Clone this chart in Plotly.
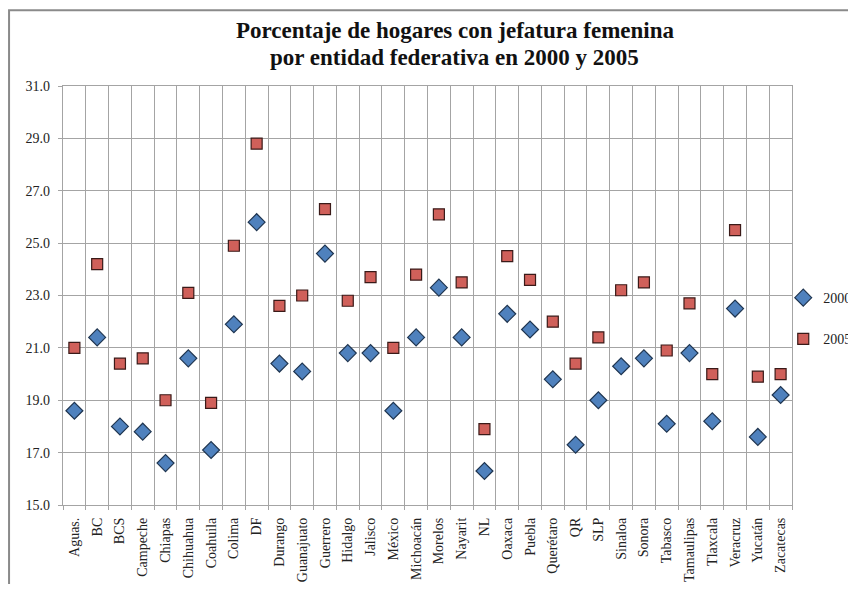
import plotly.graph_objects as go

entidades = ["Aguas.", "BC", "BCS", "Campeche", "Chiapas", "Chihuahua", "Coahuila",
             "Colima", "DF", "Durango", "Guanajuato", "Guerrero", "Hidalgo", "Jalisco",
             "México", "Michoacán", "Morelos", "Nayarit", "NL", "Oaxaca", "Puebla",
             "Querétaro", "QR", "SLP", "Sinaloa", "Sonora", "Tabasco", "Tamaulipas",
             "Tlaxcala", "Veracruz", "Yucatán", "Zacatecas"]

valores_2000 = [18.6, 21.4, 18.0, 17.8, 16.6, 20.6, 17.1, 21.9, 25.8, 20.4, 20.1, 24.6,
                20.8, 20.8, 18.6, 21.4, 23.3, 21.4, 16.3, 22.3, 21.7, 19.8, 17.3, 19.0,
                20.3, 20.6, 18.1, 20.8, 18.2, 22.5, 17.6, 19.2]

valores_2005 = [21.0, 24.2, 20.4, 20.6, 19.0, 23.1, 18.9, 24.9, 28.8, 22.6, 23.0, 26.3,
                22.8, 23.7, 21.0, 23.8, 26.1, 23.5, 17.9, 24.5, 23.6, 22.0, 20.4, 21.4,
                23.2, 23.5, 20.9, 22.7, 20.0, 25.5, 19.9, 20.0]

y_ticks = [15.0, 17.0, 19.0, 21.0, 23.0, 25.0, 27.0, 29.0, 31.0]

titulo_1 = "Porcentaje de hogares con jefatura femenina"
titulo_2 = "por entidad federativa en 2000 y 2005"

FONT = "Liberation Serif"
GRID = "#a4a4a4"

fig = go.Figure()
fig.add_trace(go.Scatter(
    x=entidades, y=valores_2000, mode="markers", name="2000", legendgroup="a",
    marker=dict(symbol="diamond", size=13, color="#4f81bd",
                line=dict(color="#1f3550", width=1.2)),
))
fig.add_trace(go.Scatter(
    x=entidades, y=valores_2005, mode="markers", name="2005", legendgroup="b",
    marker=dict(symbol="square", size=11, color="#d0605a",
                line=dict(color="#3a1a18", width=1.2)),
))

# The page body has an 8px default margin; figure is sized/shifted so it fits
# in the 856x592 window without scrollbars.
fig.update_layout(
    width=848, height=576,
    margin=dict(l=55, r=64, t=78, b=79, autoexpand=False),
    paper_bgcolor="white", plot_bgcolor="white",
    font=dict(family=FONT, size=14, color="#222"),
    showlegend=True,
    legend=dict(
        x=0.988, xanchor="left", y=0.445, yanchor="middle",
        font=dict(family=FONT, size=14, color="#222"),
        tracegroupgap=20, itemwidth=30,
        bgcolor="rgba(0,0,0,0)",
    ),
    xaxis=dict(
        type="category", tickson="boundaries", automargin=False,
        showgrid=True, gridcolor=GRID, gridwidth=1.2,
        showline=True, linecolor=GRID, linewidth=1.2, mirror=True,
        ticks="outside", ticklen=4, tickcolor=GRID, ticklabelstandoff=6,
        tickangle=-90, tickfont=dict(family=FONT, size=14, color="#222"),
        range=[-0.5, len(entidades) - 0.5],
    ),
    yaxis=dict(
        range=[15, 31], tickvals=y_ticks, automargin=False,
        ticktext=[f"{v:.1f}" for v in y_ticks],
        showgrid=True, gridcolor=GRID, gridwidth=1.2,
        showline=True, linecolor=GRID, linewidth=1.2, mirror=True,
        ticks="outside", ticklen=4, tickcolor=GRID, ticklabelstandoff=5,
        tickfont=dict(family=FONT, size=14, color="#222"),
        zeroline=False,
    ),
    annotations=[
        dict(text=f"<b>{titulo_1}</b>", xref="paper", yref="paper",
             x=0.5377, y=1.1325, xanchor="center", yanchor="middle",
             showarrow=False, font=dict(family=FONT, size=23, color="#111")),
        dict(text=f"<b>{titulo_2}</b>", xref="paper", yref="paper",
             x=0.5377, y=1.0692, xanchor="center", yanchor="middle",
             showarrow=False, font=dict(family=FONT, size=23, color="#111")),
    ],
    shapes=[dict(
        type="rect", xref="paper", yref="paper",
        x0=-0.0740, x1=1.3, y0=-0.4, y1=1.181,
        line=dict(color="#8a8a8a", width=2), fillcolor="rgba(0,0,0,0)",
        layer="below",
    )],
)

fig.write_html("out.html")
